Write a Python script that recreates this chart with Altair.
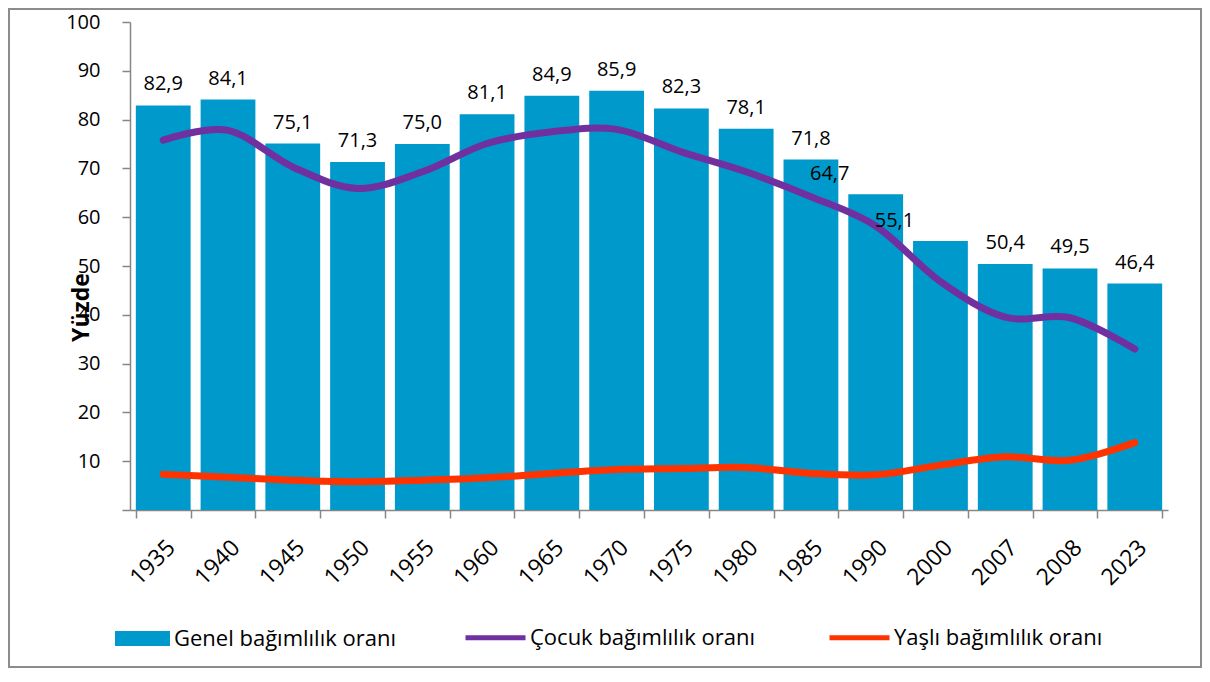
import altair as alt
import pandas as pd

years = ["1935", "1940", "1945", "1950", "1955", "1960", "1965", "1970",
         "1975", "1980", "1985", "1990", "2000", "2007", "2008", "2023"]
genel = [82.9, 84.1, 75.1, 71.3, 75.0, 81.1, 84.9, 85.9,
         82.3, 78.1, 71.8, 64.7, 55.1, 50.4, 49.5, 46.4]
cocuk = [75.8, 77.8, 70.3, 65.9, 69.3, 75.1, 77.5, 78.0,
         73.4, 69.3, 64.2, 58.2, 46.8, 39.5, 39.4, 33.0]
yasli = [7.3, 6.7, 6.1, 5.8, 6.1, 6.6, 7.5, 8.3,
         8.5, 8.7, 7.5, 7.2, 9.2, 10.9, 10.2, 13.8]

s_genel = "Genel bağımlılık oranı"
s_cocuk = "Çocuk bağımlılık oranı"
s_yasli = "Yaşlı bağımlılık oranı"
shifted_years = ["1990", "2000"]

FONT = "Open Sans"

bar_df = pd.DataFrame({"yil": years, "deger": genel, "seri": s_genel})
line_df = pd.concat([
    pd.DataFrame({"yil": years, "deger": cocuk, "seri": s_cocuk}),
    pd.DataFrame({"yil": years, "deger": yasli, "seri": s_yasli}),
], ignore_index=True)

x_enc = alt.X("yil:N", sort=years, title=None,
              scale=alt.Scale(paddingInner=0.154, paddingOuter=0.09),
              axis=alt.Axis(labelAngle=315, tickBand="extent", tickSize=8,
                            labelPadding=18, labelFontSize=23, labelFont=FONT,
                            labelColor="black", domainColor="#868686",
                            tickColor="#868686", domainWidth=1.5, tickWidth=1.5))
y_enc = alt.Y("deger:Q", title="Yüzde",
              scale=alt.Scale(domain=[0, 100], nice=False),
              axis=alt.Axis(values=list(range(0, 101, 10)), tickSize=8,
                            labelPadding=22, labelFontSize=20, labelFont=FONT,
                            labelColor="black", grid=False,
                            labelExpr="datum.value == 0 ? '' : datum.label",
                            domainColor="#868686", tickColor="#868686",
                            domainWidth=1.5, tickWidth=1.5,
                            titleFont=FONT, titleFontSize=23, titleFontWeight="bold",
                            titleColor="black", titleAngle=270, titleX=-49, titleY=285,
                            titleAlign="center", titleBaseline="middle"))

bars = alt.Chart(bar_df).mark_bar(color="#0099CC").encode(
    x=x_enc,
    y=y_enc,
    fill=alt.Fill("seri:N", scale=alt.Scale(domain=[s_genel], range=["#0099CC"]),
                  legend=alt.Legend(orient="none", legendX=-15, legendY=589, title=None,
                                    symbolType="M-1,-0.27H1V0.27H-1Z", symbolSize=3025,
                                    symbolStrokeWidth=0, labelFont=FONT, labelFontSize=22,
                                    labelColor="black", labelOffset=4, labelLimit=0)),
)

lab_expr = "replace(format(datum.deger, '.1f'), '.', ',')"
labels = alt.Chart(bar_df).transform_filter(
    ~alt.FieldOneOfPredicate(field="yil", oneOf=shifted_years)
).transform_calculate(lab=lab_expr).mark_text(
    font=FONT, fontSize=20, color="black", baseline="alphabetic", dy=-15
).encode(x=alt.X("yil:N", sort=years), y="deger:Q", text="lab:N")

labels_shift = alt.Chart(bar_df).transform_filter(
    alt.FieldOneOfPredicate(field="yil", oneOf=shifted_years)
).transform_calculate(lab=lab_expr).mark_text(
    font=FONT, fontSize=20, color="black", baseline="alphabetic", dy=-14, dx=-46
).encode(x=alt.X("yil:N", sort=years), y="deger:Q", text="lab:N")

lines = alt.Chart(line_df).mark_line(
    interpolate="cardinal", strokeWidth=7, strokeCap="round", strokeJoin="round"
).encode(
    x=alt.X("yil:N", sort=years),
    y="deger:Q",
    stroke=alt.Stroke("seri:N",
                      scale=alt.Scale(domain=[s_cocuk, s_yasli], range=["#7030A0", "#FF3300"]),
                      legend=alt.Legend(orient="none", legendX=333, legendY=583, title=None,
                                        direction="horizontal", symbolType="stroke",
                                        symbolSize=3600, symbolStrokeWidth=5,
                                        columnPadding=64, labelFont=FONT, labelFontSize=22,
                                        labelColor="black", labelOffset=2, labelLimit=0)),
    detail="seri:N",
)

frame = alt.Chart(pd.DataFrame({"a": [0]})).mark_rect(
    fill=None, stroke="#8c8c8c", strokeWidth=2
).encode(
    x=alt.value(-121), x2=alt.value(1071), y=alt.value(-13), y2=alt.value(645)
)

chart = alt.layer(bars, lines, labels, labels_shift, frame).properties(
    width=1038, height=488,
    autosize=alt.AutoSizeParams(type="none"),
    padding={"left": 122, "top": 14, "right": 34, "bottom": 158},
).configure_view(stroke=None)

chart.save("out.html", embed_options={"renderer": "svg", "actions": False})
